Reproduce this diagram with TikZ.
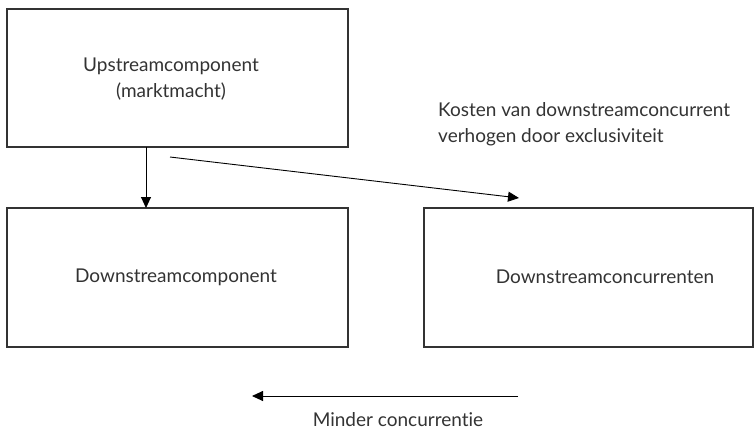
\documentclass[tikz,border=0pt]{standalone}
\usepackage{fontspec}
\setmainfont{Lato}[Ligatures={NoCommon}]
\usetikzlibrary{arrows.meta}
\definecolor{ink}{HTML}{333333}
\begin{document}
\begin{tikzpicture}[x=1pt,y=-1pt,
  box/.style={draw=ink,line width=1.3pt},
  lbl/.style={text=ink,font=\fontsize{19}{26}\selectfont,align=center,inner sep=0pt},
  arr/.style={draw=black,line width=0.9pt,-{Triangle[length=11pt,width=10pt]}}]
\useasboundingbox (0,0) rectangle (755,432);
\draw[box] (7,9) rectangle (348,147);
\node[minimum width=341pt,minimum height=138pt,anchor=north west,inner sep=0pt] (up) at (7,9) {};
\draw[box] (7,208) rectangle (348,347);
\node[minimum width=341pt,minimum height=139pt,anchor=north west,inner sep=0pt] (dc) at (7,208) {};
\draw[box] (424,208) rectangle (753,347);
\node[minimum width=329pt,minimum height=139pt,anchor=north west,inner sep=0pt] (dk) at (424,208) {};
\node[lbl] (uptxt) at (171,79) {Upstreamcomponent\\(marktmacht)};
\node[lbl] (dctxt) at (176,277) {Downstreamcomponent};
\node[lbl] (dktxt) at (605,277) {Downstreamconcurrenten};
\node[lbl,align=left,anchor=west] (kost) at (438,124) {Kosten van downstreamconcurrent\\verhogen door exclusiviteit};
\coordinate (a1) at (146,147);
\coordinate (a2) at (146,208);
\draw[arr] (a1) -- (a2);
\coordinate (d1) at (170,157);
\coordinate (d2) at (519,198);
\draw[arr] (d1) -- (d2);
\coordinate (b1) at (518,396);
\coordinate (b2) at (252,396);
\draw[arr] (b1) -- (b2);
\node[lbl] (minder) at (398,420) {Minder concurrentie};
\end{tikzpicture}
\end{document}
